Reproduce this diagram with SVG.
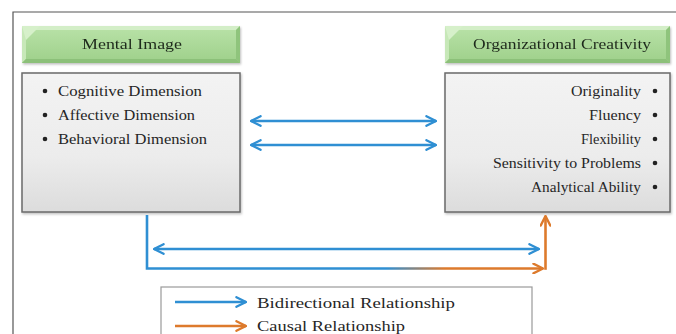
<svg xmlns="http://www.w3.org/2000/svg" width="676" height="334" viewBox="0 0 676 334">
<defs>
<style>
.t{font-family:"Liberation Serif","Times New Roman",serif;fill:#262626;}
.h{font-size:15.5px;fill:#1f2a1c;}
.b{font-size:14.5px;}
.dot{fill:#222;}
.box{stroke:#6a6a6a;stroke-width:1.5;fill:url(#gray);}
.blue{stroke:#2f8fd3;stroke-width:2.6;fill:none;}
.orange{stroke:#dd7a2c;stroke-width:2.6;fill:none;}
</style>
<linearGradient id="gray" x1="0" y1="0" x2="0" y2="1">
<stop offset="0" stop-color="#f3f3f3"/>
<stop offset="0.6" stop-color="#ececec"/>
<stop offset="1" stop-color="#dcdcdc"/>
</linearGradient>
<linearGradient id="green" x1="0" y1="0" x2="0" y2="1">
<stop offset="0" stop-color="#b9e2a8"/>
<stop offset="1" stop-color="#9ed08a"/>
</linearGradient>
<linearGradient id="bo" gradientUnits="userSpaceOnUse" x1="147" y1="0" x2="545" y2="0">
<stop offset="0" stop-color="#2f8fd3"/>
<stop offset="0.6" stop-color="#2f8fd3"/>
<stop offset="0.75" stop-color="#dd7a2c"/>
<stop offset="1" stop-color="#dd7a2c"/>
</linearGradient>
<filter id="sh" x="-5%" y="-5%" width="110%" height="115%">
<feDropShadow dx="1" dy="1.5" stdDeviation="1.2" flood-color="#000" flood-opacity="0.25"/>
</filter>
<marker id="ab" viewBox="0 0 10 10" refX="9" refY="5" markerWidth="4.6" markerHeight="4.6" orient="auto-start-reverse" markerUnits="strokeWidth">
<path d="M1,1 L9,5 L1,9" fill="none" stroke="#2f8fd3" stroke-width="2" stroke-linecap="round" stroke-linejoin="round"/>
</marker>
<marker id="ao" viewBox="0 0 10 10" refX="9" refY="5" markerWidth="4.6" markerHeight="4.6" orient="auto-start-reverse" markerUnits="strokeWidth">
<path d="M1,1 L9,5 L1,9" fill="none" stroke="#dd7a2c" stroke-width="2" stroke-linecap="round" stroke-linejoin="round"/>
</marker>
</defs>
<rect width="676" height="334" fill="#ffffff"/>
<g id="frame">
<path d="M13,334 V12 H676" fill="none" stroke="#555" stroke-width="1.2"/>
</g>
<g id="mental-image-header" filter="url(#sh)">
<rect x="22" y="26" width="218" height="37" fill="url(#green)"/>
<polygon points="22,26 240,26 236,30 26,30" fill="#d3eec7"/>
<polygon points="22,26 26,30 26,59 22,63" fill="#c7e8b8"/>
<polygon points="22,26 40,26 26,40" fill="#d6f0ca"/>
<polygon points="240,26 240,63 236,59 236,30" fill="#8fc47c"/>
<polygon points="22,63 240,63 236,59 26,59" fill="#8cc079"/>
<text class="t h" x="132" y="49" text-anchor="middle" textLength="100" lengthAdjust="spacingAndGlyphs">Mental Image</text>
</g>
<g id="org-creativity-header" filter="url(#sh)">
<rect x="445" y="26" width="225" height="37" fill="url(#green)"/>
<polygon points="445,26 670,26 666,30 449,30" fill="#d3eec7"/>
<polygon points="445,26 449,30 449,59 445,63" fill="#c7e8b8"/>
<polygon points="445,26 463,26 449,40" fill="#d6f0ca"/>
<polygon points="670,26 670,63 666,59 666,30" fill="#8fc47c"/>
<polygon points="445,63 670,63 666,59 449,59" fill="#8cc079"/>
<text class="t h" x="562" y="49" text-anchor="middle" textLength="178" lengthAdjust="spacingAndGlyphs">Organizational Creativity</text>
</g>
<g id="mental-image-box">
<rect class="box" x="22" y="73" width="218" height="139" filter="url(#sh)"/>
<circle class="dot" cx="45" cy="91" r="2.3"/>
<circle class="dot" cx="45" cy="115" r="2.3"/>
<circle class="dot" cx="45" cy="139" r="2.3"/>
<text class="t b" x="58" y="95.5" textLength="144" lengthAdjust="spacingAndGlyphs">Cognitive Dimension</text>
<text class="t b" x="58" y="119.5" textLength="137" lengthAdjust="spacingAndGlyphs">Affective Dimension</text>
<text class="t b" x="58" y="143.5" textLength="149" lengthAdjust="spacingAndGlyphs">Behavioral Dimension</text>
</g>
<g id="org-creativity-box">
<rect class="box" x="445" y="73" width="225" height="139" filter="url(#sh)"/>
<circle class="dot" cx="655" cy="91" r="2.3"/>
<circle class="dot" cx="655" cy="115" r="2.3"/>
<circle class="dot" cx="655" cy="139" r="2.3"/>
<circle class="dot" cx="655" cy="163" r="2.3"/>
<circle class="dot" cx="655" cy="187" r="2.3"/>
<text class="t b" x="641" y="95.5" text-anchor="end" textLength="70" lengthAdjust="spacingAndGlyphs">Originality</text>
<text class="t b" x="641" y="119.5" text-anchor="end" textLength="52" lengthAdjust="spacingAndGlyphs">Fluency</text>
<text class="t b" x="641" y="143.5" text-anchor="end" textLength="60" lengthAdjust="spacingAndGlyphs">Flexibility</text>
<text class="t b" x="641" y="167.5" text-anchor="end" textLength="148" lengthAdjust="spacingAndGlyphs">Sensitivity to Problems</text>
<text class="t b" x="641" y="191.5" text-anchor="end" textLength="110" lengthAdjust="spacingAndGlyphs">Analytical Ability</text>
</g>
<g id="connectors">
<line class="blue" x1="251" y1="121" x2="436" y2="121" marker-start="url(#ab)" marker-end="url(#ab)"/>
<line class="blue" x1="251" y1="145" x2="436" y2="145" marker-start="url(#ab)" marker-end="url(#ab)"/>
<line class="blue" x1="154" y1="249" x2="539" y2="249" marker-start="url(#ab)" marker-end="url(#ab)"/>
<path d="M147,215 V268.5 H543" fill="none" stroke="url(#bo)" stroke-width="2.6" marker-end="url(#ao)"/>
<path class="orange" d="M545.5,269.8 V216" marker-end="url(#ao)"/>
</g>
<g id="legend">
<rect x="161" y="287" width="371" height="60" fill="#ffffff" stroke="#9a9a9a" stroke-width="1.2"/>
<line class="blue" x1="175" y1="302" x2="246" y2="302" marker-end="url(#ab)"/>
<line class="orange" x1="175" y1="326" x2="246" y2="326" marker-end="url(#ao)"/>
<text class="t b" x="257" y="307.5" textLength="198" lengthAdjust="spacingAndGlyphs">Bidirectional Relationship</text>
<text class="t b" x="257" y="330.5" textLength="148" lengthAdjust="spacingAndGlyphs">Causal Relationship</text>
</g>
</svg>
